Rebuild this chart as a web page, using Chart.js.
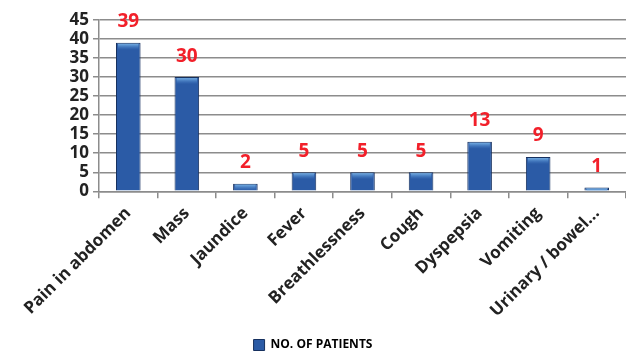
<!DOCTYPE html>
<html lang="en">

<head>
    <meta charset="utf-8">
    <title>No. of patients</title>
    <script src="https://cdn.jsdelivr.net/npm/chart.js@4.4.1/dist/chart.umd.min.js"></script>
    <style>
        html, body { margin: 0; padding: 0; background: #ffffff; }
        #box { width: 626px; height: 352px; }
    </style>
</head>

<body>
    <div id="box">
        <canvas id="myChart"></canvas>
    </div>

    <script>
        // symptoms and number of patients
        const symptoms = ['Pain in abdomen', 'Mass', 'Jaundice', 'Fever', 'Breathlessness',
            'Cough', 'Dyspepsia', 'Vomiting', 'Urinary / bowel...']
        const patients = [39, 30, 2, 5, 5, 5, 13, 9, 1]
        const yTicks = [0, 5, 10, 15, 20, 25, 30, 35, 40, 45]

        const fontName = "'Open Sans', 'DejaVu Sans', sans-serif"

        // red numbers above the bars + light top of each bar
        const barExtras = {
            id: 'barExtras',
            afterDatasetsDraw(chart) {
                const ctx = chart.ctx
                const meta = chart.getDatasetMeta(0)
                ctx.save()
                meta.data.forEach((bar, i) => {
                    const w = bar.width
                    const grad = ctx.createLinearGradient(0, bar.y, 0, bar.y + 7)
                    grad.addColorStop(0, 'rgba(140, 200, 245, 0.95)')
                    grad.addColorStop(1, 'rgba(80, 140, 210, 0)')
                    ctx.fillStyle = grad
                    ctx.fillRect(bar.x - w / 2 + 2, bar.y + 1, w - 4, Math.min(7, bar.base - bar.y - 1))

                    ctx.fillStyle = '#f2202a'
                    ctx.font = 'bold 19px ' + fontName
                    ctx.textAlign = 'center'
                    ctx.textBaseline = 'middle'
                    ctx.fillText(patients[i], bar.x, bar.y - 21)
                })
                ctx.restore()
            }
        }

        function barColor(context) {
            const chart = context.chart
            const bar = chart.getDatasetMeta(0).data[context.dataIndex]
            if (!bar || !bar.width) {
                return '#2b5ba6'
            }
            const g = chart.ctx.createLinearGradient(bar.x - bar.width / 2, 0, bar.x + bar.width / 2, 0)
            g.addColorStop(0, '#1c3f7a')
            g.addColorStop(0.45, '#3368b8')
            g.addColorStop(1, '#1a3a72')
            return g
        }

        const data = {
            labels: symptoms,
            datasets: [{
                label: 'NO. OF PATIENTS',
                data: patients,
                backgroundColor: barColor,
                borderColor: '#16305e',
                borderWidth: 1,
                barPercentage: 0.42,
                categoryPercentage: 1.0
            }]
        }

        const config = {
            type: 'bar',
            data: data,
            plugins: [barExtras],
            options: {
                responsive: true,
                maintainAspectRatio: false,
                animation: false,
                layout: {
                    padding: { top: 20, right: 0, left: 0, bottom: -9 }
                },
                plugins: {
                    tooltip: { enabled: false },
                    legend: {
                        position: 'bottom',
                        labels: {
                            color: '#222222',
                            font: { family: fontName, size: 12, weight: 'bold' },
                            boxWidth: 11,
                            boxHeight: 11,
                            padding: 4,
                            generateLabels() {
                                return [{
                                    text: 'NO. OF PATIENTS',
                                    fillStyle: '#2b5ba6',
                                    strokeStyle: '#16305e',
                                    lineWidth: 1,
                                    datasetIndex: 0
                                }]
                            }
                        }
                    }
                },
                scales: {
                    y: {
                        min: 0,
                        max: 45,
                        afterBuildTicks(axis) {
                            axis.ticks = yTicks.map(v => ({ value: v }))
                        },
                        afterFit(scale) {
                            scale.width = 99
                        },
                        ticks: {
                            color: '#222222',
                            font: { family: fontName, size: 17, weight: 'bold' },
                            autoSkip: false,
                            padding: 4
                        },
                        grid: {
                            color: '#8c8c8c',
                            lineWidth: 1.5,
                            tickLength: 6,
                            tickColor: '#8c8c8c'
                        },
                        border: { color: '#8c8c8c', width: 1.5 }
                    },
                    x: {
                        afterFit(scale) {
                            scale.height += 9
                        },
                        ticks: {
                            color: '#222222',
                            font: { family: fontName, size: 17, weight: 'bold' },
                            minRotation: 45,
                            maxRotation: 45,
                            autoSkip: false,
                            padding: 5
                        },
                        grid: {
                            offset: true,
                            drawOnChartArea: false,
                            tickLength: 7,
                            tickColor: '#8c8c8c',
                            lineWidth: 1.5
                        },
                        border: { color: '#8c8c8c', width: 1.5 }
                    }
                }
            }
        }

        const myChart = new Chart(
            document.getElementById('myChart'),
            config
        )
    </script>

</body>

</html>
